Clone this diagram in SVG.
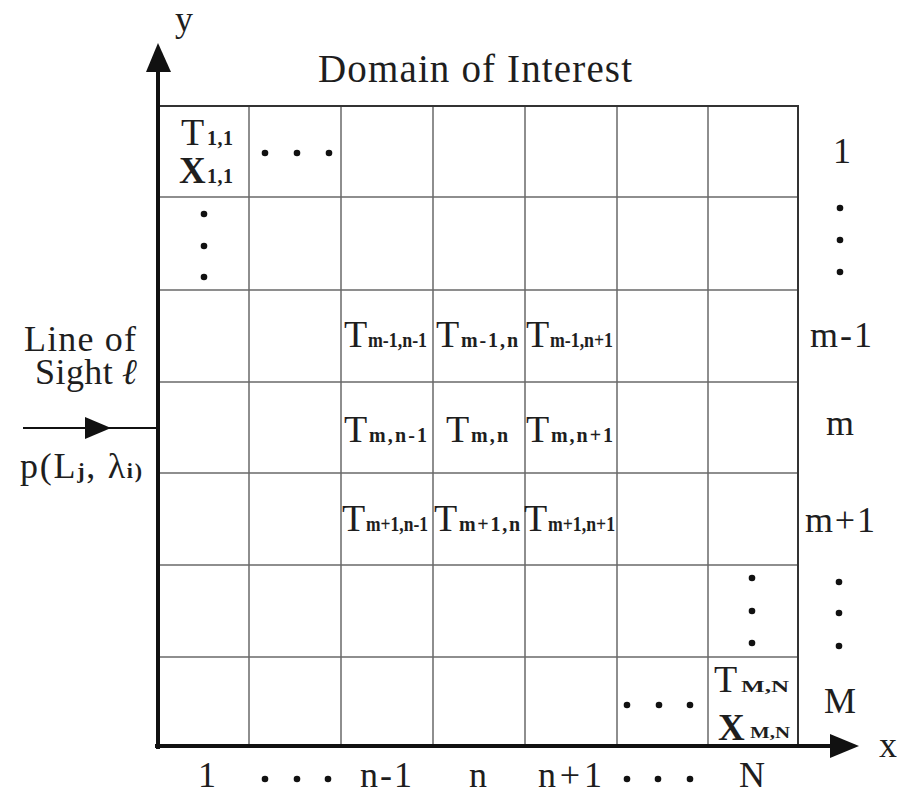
<svg xmlns="http://www.w3.org/2000/svg" width="897" height="794" viewBox="0 0 897 794">
<style>
text{font-family:"Liberation Serif","Times New Roman",serif;fill:#1e1e1e}
.big{font-size:38px}
.lbl{font-size:36px}
.ttl{font-size:39px}
.sub{font-size:20px;font-weight:bold}
.psub{font-size:22px;font-weight:bold}
.subs{font-size:17px;font-weight:bold}
.bx{font-size:37px;font-weight:bold}
.grid{stroke:#6a6a6a;stroke-width:1.5;fill:none}
.border{stroke:#333;stroke-width:2;fill:none}
.axis{stroke:#111;stroke-width:4;fill:none}
.dot{fill:#111}
</style>
<defs>
<circle id="d" r="3.3" class="dot"/>
</defs>
<rect width="897" height="794" fill="#fff"/>
<g id="grid">
<path class="grid" d="M249,106V746M341,106V746M433,106V746M525,106V746M617,106V746M708,106V746M157,197H798M157,290H798M157,382H798M157,473H798M157,565H798M157,657H798"/>
<path class="border" d="M157,106H798V746"/>
</g>
<g id="connectors">
<path class="axis" d="M158,749V70"/>
<polygon points="158,43 146,72 171,72" fill="#111"/>
<path class="axis" d="M155,746H832"/>
<polygon points="859,746 830,734 830,758" fill="#111"/>
<path d="M23,428H157" stroke="#111" stroke-width="2"/>
<polygon points="111,428 85,417 85,439" fill="#111"/>
</g>
<g id="labels">
<text x="175" y="31" class="lbl">y</text>
<text x="879" y="757" class="lbl">x</text>
<text x="318" y="82" class="ttl" textLength="314" lengthAdjust="spacing">Domain of Interest</text>
<text x="24" y="351" class="lbl" textLength="112" lengthAdjust="spacing">Line of</text>
<text x="35" y="384" class="lbl" textLength="103" lengthAdjust="spacing">Sight <tspan font-style="italic" font-weight="bold">ℓ</tspan></text>
<text x="20" y="478" class="lbl" textLength="122" lengthAdjust="spacing">p(L<tspan class="psub">j</tspan>, λ<tspan class="psub">i)</tspan></text>
<text x="842" y="163" class="lbl" text-anchor="middle">1</text>
<use href="#d" x="840" y="208"/><use href="#d" x="840" y="240"/><use href="#d" x="840" y="272"/>
<text x="810" y="347" class="lbl" textLength="62" lengthAdjust="spacing">m-1</text>
<text x="840" y="435" class="lbl" text-anchor="middle">m</text>
<text x="805" y="532" class="lbl" textLength="70" lengthAdjust="spacing">m+1</text>
<use href="#d" x="839" y="582"/><use href="#d" x="839" y="613"/><use href="#d" x="839" y="646"/>
<text x="840" y="713" class="lbl" text-anchor="middle">M</text>
<text x="207" y="787" class="lbl" text-anchor="middle">1</text>
<use href="#d" x="265" y="779"/><use href="#d" x="297" y="779"/><use href="#d" x="328" y="779"/>
<text x="360" y="787" class="lbl" textLength="52" lengthAdjust="spacing">n-1</text>
<text x="478" y="787" class="lbl" text-anchor="middle">n</text>
<text x="538" y="787" class="lbl" textLength="64" lengthAdjust="spacing">n+1</text>
<use href="#d" x="627" y="779"/><use href="#d" x="658" y="779"/><use href="#d" x="690" y="779"/>
<text x="752" y="787" class="lbl" text-anchor="middle">N</text>
</g>
<g id="cell-1-1">
<text x="181" y="145" class="big">T</text>
<text x="207" y="145" class="sub" textLength="26">1,1</text>
<text x="179" y="183" class="bx">X</text>
<text x="207" y="183" class="sub" textLength="26">1,1</text>
</g>
<g id="cell-1-2">
<use href="#d" x="265" y="153"/><use href="#d" x="297" y="153"/><use href="#d" x="329" y="153"/>
</g>
<g id="cell-2-1">
<use href="#d" x="204" y="214"/><use href="#d" x="204" y="246"/><use href="#d" x="204" y="277"/>
</g>
<g id="cell-m-1-n-1"><text x="344" y="347" class="big">T</text><text x="368" y="347" class="sub" textLength="59" lengthAdjust="spacingAndGlyphs">m-1,n-1</text></g>
<g id="cell-m-1-n"><text x="436" y="347" class="big">T</text><text x="461" y="347" class="sub" textLength="57" lengthAdjust="spacing">m-1,n</text></g>
<g id="cell-m-1-n+1"><text x="526" y="347" class="big">T</text><text x="550" y="347" class="sub" textLength="63" lengthAdjust="spacingAndGlyphs">m-1,n+1</text></g>
<g id="cell-m-n-1"><text x="344" y="442" class="big">T</text><text x="369" y="442" class="sub" textLength="58" lengthAdjust="spacing">m,n-1</text></g>
<g id="cell-m-n"><text x="446" y="442" class="big">T</text><text x="471" y="442" class="sub" textLength="37" lengthAdjust="spacing">m,n</text></g>
<g id="cell-m-n+1"><text x="526" y="442" class="big">T</text><text x="551" y="442" class="sub" textLength="62" lengthAdjust="spacing">m,n+1</text></g>
<g id="cell-m+1-n-1"><text x="342" y="531" class="big">T</text><text x="366" y="531" class="sub" textLength="62" lengthAdjust="spacingAndGlyphs">m+1,n-1</text></g>
<g id="cell-m+1-n"><text x="434" y="531" class="big">T</text><text x="459" y="531" class="sub" textLength="61" lengthAdjust="spacing">m+1,n</text></g>
<g id="cell-m+1-n+1"><text x="524" y="531" class="big">T</text><text x="548" y="531" class="sub" textLength="67" lengthAdjust="spacingAndGlyphs">m+1,n+1</text></g>
<g id="cell-M-1-N">
<use href="#d" x="752" y="578"/><use href="#d" x="752" y="611"/><use href="#d" x="752" y="643"/>
</g>
<g id="cell-M-N-1">
<use href="#d" x="627" y="705"/><use href="#d" x="659" y="705"/><use href="#d" x="690" y="705"/>
</g>
<g id="cell-M-N">
<text x="714" y="692" class="big">T</text>
<text x="741" y="692" class="subs" textLength="48" lengthAdjust="spacingAndGlyphs">M,N</text>
<text x="718" y="740" class="bx">X</text>
<text x="750" y="738" class="subs" textLength="40" lengthAdjust="spacingAndGlyphs">M,N</text>
</g>
</svg>
